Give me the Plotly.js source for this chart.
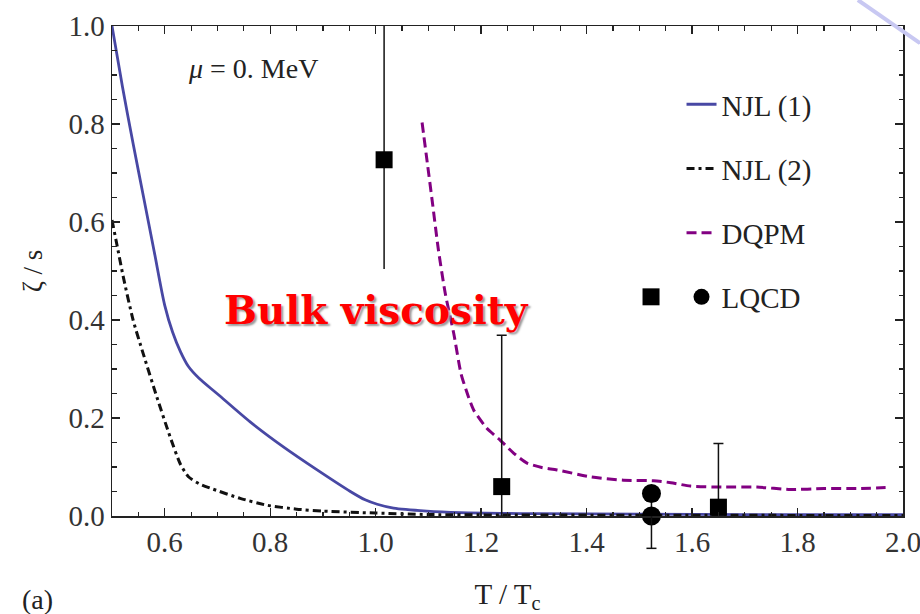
<!DOCTYPE html>
<html><head><meta charset="utf-8">
<script src="https://cdn.plot.ly/plotly-3.0.1.min.js"></script>
<style>html,body{margin:0;padding:0;background:#fff}</style>
</head><body><div id="chart" style="width:920px;height:614px"></div>
<script>
// NJL (1) – solid blue
const njl1X = [0.500, 0.520, 0.540, 0.560, 0.580, 0.600, 0.615, 0.630, 0.645, 0.665, 0.699, 0.762, 0.825, 0.889, 0.952, 0.980, 1.003, 1.034, 1.097, 1.160, 1.300, 1.500, 1.700, 2.000];
const njl1Y = [1.000, 0.875, 0.760, 0.650, 0.540, 0.430, 0.375, 0.335, 0.305, 0.281, 0.250, 0.192, 0.141, 0.094, 0.050, 0.033, 0.024, 0.016, 0.010, 0.007, 0.005, 0.004, 0.003, 0.003];
// NJL (2) – black dash-dot
const njl2X = [0.500, 0.510, 0.521, 0.540, 0.559, 0.585, 0.610, 0.630, 0.645, 0.665, 0.686, 0.743, 0.794, 0.850, 0.900, 1.000, 1.100, 1.300, 2.000];
const njl2Y = [0.604, 0.550, 0.490, 0.400, 0.332, 0.243, 0.162, 0.105, 0.080, 0.066, 0.057, 0.036, 0.022, 0.014, 0.010, 0.006, 0.003, 0.002, 0.001];
// DQPM – purple dashed
const dqpmX = [1.088, 1.098, 1.107, 1.119, 1.132, 1.148, 1.162, 1.176, 1.186, 1.210, 1.236, 1.262, 1.287, 1.315, 1.344, 1.407, 1.470, 1.527, 1.560, 1.597, 1.660, 1.723, 1.787, 1.850, 1.913, 1.967];
const dqpmY = [0.803, 0.720, 0.645, 0.543, 0.454, 0.373, 0.290, 0.243, 0.216, 0.180, 0.155, 0.128, 0.108, 0.099, 0.094, 0.080, 0.073, 0.072, 0.068, 0.061, 0.059, 0.059, 0.054, 0.056, 0.056, 0.058];
// LQCD squares
const sqX = [1.016, 1.239, 1.650];
const sqY = [0.727, 0.060, 0.018];
const sqErrPlus = [0.308, 0.309, 0.130];
const sqErrMinus = [0.223, 0.060, 0.018];
// LQCD circles
const ciX = [1.523, 1.523];
const ciY = [0.046, 0.000];
const ciErrPlus = [0.000, 0.030];
const ciErrMinus = [0.000, 0.066];
// tick labels
const xTicks = [0.6, 0.8, 1.0, 1.2, 1.4, 1.6, 1.8, 2.0];
const xTickText = ['0.6', '0.8', '1.0', '1.2', '1.4', '1.6', '1.8', '2.0'];
const yTicks = [0.0, 0.2, 0.4, 0.6, 0.8, 1.0];
const yTickText = ['0.0', '0.2', '0.4', '0.6', '0.8', '1.0'];

const FONT = 'Liberation Serif, Times New Roman, serif';
const ERR_COLOR = '#111';
const errStyle = {color: ERR_COLOR, thickness: 1.5};
const X_RANGE = [0.5, 2.0];
const Y_RANGE = [0, 1];
const CAP_HALF = 0.0095; // error-bar cap half width, in x units (≈5 px)

const traces = [
  {x: njl1X, y: njl1Y, type: 'scatter', mode: 'lines', name: 'NJL (1)', legendgroup: 'a',
   line: {color: '#4848a4', width: 2.8, shape: 'spline', smoothing: 0.8}},
  {x: njl2X, y: njl2Y, type: 'scatter', mode: 'lines', name: 'NJL (2)', legendgroup: 'b',
   line: {color: '#111', width: 3, dash: '8px,4px,3px,4px', shape: 'spline', smoothing: 0.6}},
  {x: dqpmX, y: dqpmY, type: 'scatter', mode: 'lines', name: 'DQPM', legendgroup: 'c',
   line: {color: '#820082', width: 3, dash: '10px,5px', shape: 'spline', smoothing: 0.6}},
  {x: sqX.slice(0, 1), y: sqY.slice(0, 1), type: 'scatter', mode: 'markers', showlegend: false, cliponaxis: false,
   marker: {symbol: 'square', size: 17, color: '#000'},
   error_y: Object.assign({type: 'data', symmetric: false, array: sqErrPlus.slice(0, 1), arrayminus: sqErrMinus.slice(0, 1), width: 0}, errStyle)},
  {x: sqX.slice(1), y: sqY.slice(1), type: 'scatter', mode: 'markers', showlegend: false, cliponaxis: false,
   marker: {symbol: 'square', size: 17, color: '#000'},
   error_y: Object.assign({type: 'data', symmetric: false, array: sqErrPlus.slice(1), arrayminus: sqErrMinus.slice(1), width: 5}, errStyle)},
  {x: ciX.slice(1), y: ciY.slice(1), type: 'scatter', mode: 'markers', showlegend: false, cliponaxis: false,
   marker: {symbol: 'circle', size: 19, color: '#000'},
   error_y: Object.assign({type: 'data', symmetric: false, array: ciErrPlus.slice(1), arrayminus: ciErrMinus.slice(1), width: 5}, errStyle)},
  {x: ciX.slice(0, 1), y: ciY.slice(0, 1), type: 'scatter', mode: 'markers', name: 'LQCD', legendgroup: 'd', cliponaxis: false,
   marker: {symbol: 'circle', size: 19, color: '#000'}}
];

// part of the circle error bar that lies below the frame (drawn in paper y, which equals data y for range [0,1])
const toPaperY = v => (v - Y_RANGE[0]) / (Y_RANGE[1] - Y_RANGE[0]);
const ciLow = ciY[1] - ciErrMinus[1];
const belowAxisShapes = [
  {type: 'line', xref: 'x', yref: 'paper', x0: ciX[1], x1: ciX[1], y0: toPaperY(Math.max(ciY[1], Y_RANGE[0])), y1: toPaperY(ciLow),
   line: {color: ERR_COLOR, width: 1.5}},
  {type: 'line', xref: 'x', yref: 'paper', x0: ciX[1] - CAP_HALF, x1: ciX[1] + CAP_HALF, y0: toPaperY(ciLow), y1: toPaperY(ciLow),
   line: {color: ERR_COLOR, width: 1.5}}
];

const axisCommon = {
  showgrid: false, zeroline: false, showline: true, linecolor: '#222', linewidth: 1.5,
  mirror: 'ticks', ticks: 'inside', ticklen: 8, tickwidth: 1.3, tickcolor: '#222',
  tickfont: {family: FONT, size: 29, color: '#333'}, tickmode: 'array', ticklabeloverflow: 'allow',
  minor: {tickmode: 'linear', tick0: 0, dtick: 0.05, ticks: 'inside', ticklen: 4.5, tickwidth: 1.2, tickcolor: '#222', showgrid: false}
};

const layout = {
  width: 920, height: 614,
  margin: {l: 112, r: 17, t: 26, b: 98},
  paper_bgcolor: '#fff', plot_bgcolor: '#fff',
  showlegend: true,
  xaxis: Object.assign({}, axisCommon, {range: X_RANGE, tickvals: xTicks, ticktext: xTickText,
    title: {text: 'T / T<sub>c</sub>', font: {family: FONT, size: 29, color: '#222'}, standoff: 26}}),
  yaxis: Object.assign({}, axisCommon, {range: Y_RANGE, tickvals: yTicks, ticktext: yTickText,
    title: {text: 'ζ / s', font: {family: FONT, size: 27, color: '#222'}, standoff: 18}}),
  legend: {x: 0.72, y: 0.892, xanchor: 'left', yanchor: 'top', bgcolor: 'rgba(0,0,0,0)',
    font: {family: FONT, size: 29, color: '#222'}, traceorder: 'grouped', tracegroupgap: 23.5,
    itemwidth: 30},
  annotations: [
    {text: '<i>μ</i> = 0. MeV', xref: 'paper', yref: 'paper', x: 0.178, y: 0.914, xanchor: 'center', yanchor: 'middle',
     showarrow: false, font: {family: FONT, size: 28, color: '#222'}},
    {text: '<b>Bulk viscosity</b>', xref: 'paper', yref: 'paper', x: 0.334, y: 0.42, xanchor: 'center', yanchor: 'middle',
     showarrow: false, font: {family: 'DejaVu Serif, serif', size: 39, color: '#ff0000', shadow: '2px 2px 2px #999'}},
    {text: '(a)', xref: 'paper', yref: 'paper', x: -0.094, y: -0.171, xanchor: 'center', yanchor: 'middle',
     showarrow: false, font: {family: FONT, size: 28, color: '#222'}}
  ],
  shapes: belowAxisShapes.concat([
    // LQCD legend: square swatch next to the circle symbol
    {type: 'rect', xref: 'paper', yref: 'paper', x0: 0.6707, x1: 0.6922, y0: 0.4300, y1: 0.4646,
     fillcolor: '#000', line: {width: 0}},
    // slide decoration in the top-right corner
    {type: 'line', xref: 'paper', yref: 'paper', x0: 0.943, y0: 1.053, x1: 1.0215, y1: 0.965,
     line: {color: '#c8c8f2', width: 4}}
  ])
};

Plotly.newPlot('chart', traces, layout, {displayModeBar: false, staticPlot: true});
</script>
</body></html>
